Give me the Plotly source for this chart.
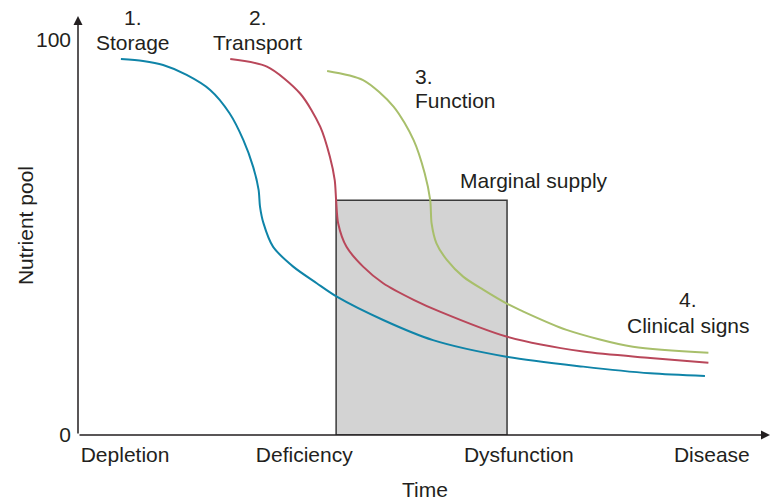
import plotly.graph_objects as go

# curves (x: time, y: nutrient pool 0-100)
storage_x = [6.2, 9.4, 12.3, 15.7, 19.1, 21.9, 23.9, 25.3, 26.1, 26.3, 26.8, 28.2, 31.1, 34.5, 37.4, 44.1, 51.3, 61.9, 73.0, 82.7, 90.6]
storage_y = [95.1, 94.6, 93.6, 91.1, 87.3, 81.4, 74.6, 67.9, 62.0, 57.8, 53.6, 47.6, 42.6, 38.4, 35.0, 29.1, 24.0, 19.8, 17.3, 15.6, 14.9]

transport_x = [22.0, 27.3, 32.1, 35.0, 36.4, 37.1, 37.3, 37.6, 38.8, 41.2, 44.1, 48.5, 52.3, 61.9, 73.0, 82.7, 91.1]
transport_y = [95.1, 93.2, 86.4, 78.0, 70.4, 64.5, 59.4, 53.5, 47.6, 42.6, 38.4, 34.2, 31.2, 24.9, 21.1, 19.5, 18.3]

function_x = [36.0, 41.2, 45.6, 48.5, 50.1, 50.9, 51.1, 51.8, 53.3, 55.7, 58.6, 61.9, 63.9, 70.6, 80.2, 91.1]
function_y = [92.1, 89.8, 83.1, 74.6, 66.2, 59.4, 53.5, 48.5, 44.3, 40.0, 36.7, 33.3, 31.6, 26.6, 22.3, 20.8]

box_x = [37.3, 62.0]
box_top = 59.4

stage_ticks = [6.8, 32.7, 63.7, 91.6]
stage_labels = ["Depletion", "Deficiency", "Dysfunction", "Disease"]

FONT = "Liberation Sans, Arial, sans-serif"
INK = "#231f20"
FS = 21

fig = go.Figure()

fig.add_shape(type="rect", x0=box_x[0], x1=box_x[1], y0=0, y1=box_top,
              fillcolor="#d3d3d3", line=dict(color="#3a3a3a", width=1.5), layer="below")

for xs, ys, col in [(storage_x, storage_y, "#0f84a8"),
                    (transport_x, transport_y, "#b9475a"),
                    (function_x, function_y, "#a8bf6b")]:
    fig.add_trace(go.Scatter(x=xs, y=ys, mode="lines", line=dict(color=col, width=2, shape="spline", smoothing=0.8),
                             showlegend=False, hoverinfo="skip"))

# axes with arrow heads
fig.add_annotation(x=100, y=0, ax=0, ay=0, xref="x", yref="y", axref="x", ayref="y",
                   showarrow=True, arrowhead=2, arrowsize=1.2, arrowwidth=1.5, arrowcolor=INK, text="")
fig.add_annotation(x=0, y=106, ax=0, ay=0, xref="x", yref="y", axref="x", ayref="y",
                   showarrow=True, arrowhead=2, arrowsize=1.2, arrowwidth=1.5, arrowcolor=INK, text="")

labels = [
    ("1.", 7.95, 105.7, "center"), ("Storage", 7.95, 99.4, "center"),
    ("2.", 26.0, 105.7, "center"), ("Transport", 26.0, 99.4, "center"),
    ("3.", 48.4, 90.6, "left"), ("Function", 48.4, 84.5, "left"),
    ("Marginal supply", 54.9, 64.3, "left"),
    ("4.", 88.2, 34.2, "center"), ("Clinical signs", 88.2, 27.8, "center"),
]
for t, x, y, anc in labels:
    fig.add_annotation(x=x, y=y, text=t, showarrow=False, xanchor=anc, yanchor="middle",
                       font=dict(size=FS, color=INK, family=FONT))

# axis titles sit outside the data range, so place them on paper
fig.add_annotation(x=0.501, y=-0.131, xref="paper", yref="paper", text="Time", showarrow=False,
                   xanchor="center", yanchor="middle", font=dict(size=FS, color=INK, family=FONT))
fig.add_annotation(x=-0.0766, y=0.501, xref="paper", yref="paper", text="Nutrient pool", textangle=-90,
                   xanchor="center", yanchor="middle", showarrow=False,
                   font=dict(size=FS, color=INK, family=FONT))

fig.update_xaxes(range=[0, 100], showgrid=False, zeroline=False, showline=False, automargin=False,
                 tickvals=stage_ticks, ticktext=stage_labels, ticks="", ticklabelstandoff=5,
                 tickfont=dict(size=FS, color=INK, family=FONT))
fig.update_yaxes(range=[0, 106], showgrid=False, zeroline=False, showline=False, automargin=False,
                 tickvals=[0, 100], ticktext=["0", "100"], ticks="", ticklabelstandoff=6,
                 tickfont=dict(size=FS, color=INK, family=FONT))

fig.update_layout(width=772, height=502, margin=dict(l=78, r=2, t=16, b=67),
                  plot_bgcolor="white", paper_bgcolor="white")

fig.write_html("out.html", config={"displayModeBar": False},
               post_script="document.body.style.margin='0';")
